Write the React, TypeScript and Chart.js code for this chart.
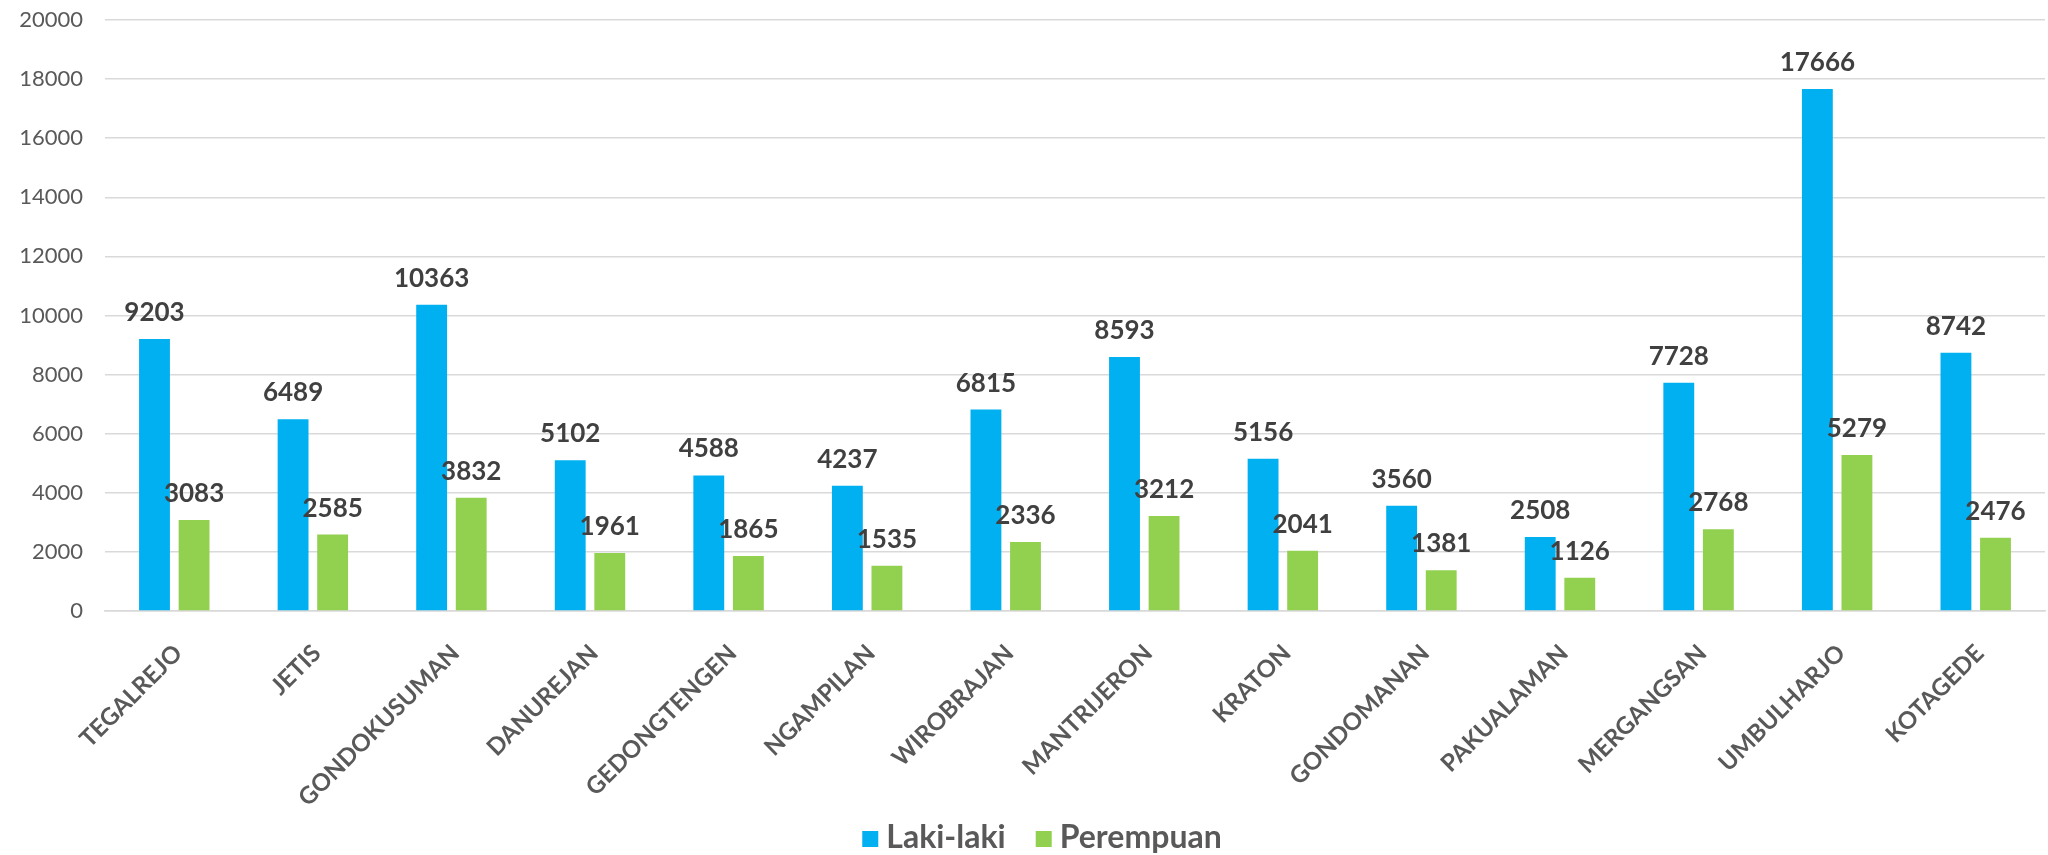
import React, { useEffect, useRef } from "react";
import { Chart, registerables } from "chart.js";

Chart.register(...registerables);

const categories = [
  "TEGALREJO", "JETIS", "GONDOKUSUMAN", "DANUREJAN", "GEDONGTENGEN", "NGAMPILAN", "WIROBRAJAN",
  "MANTRIJERON", "KRATON", "GONDOMANAN", "PAKUALAMAN", "MERGANGSAN", "UMBULHARJO", "KOTAGEDE",
];
const lakiLaki = [9203, 6489, 10363, 5102, 4588, 4237, 6815, 8593, 5156, 3560, 2508, 7728, 17666, 8742];
const perempuan = [3083, 2585, 3832, 1961, 1865, 1535, 2336, 3212, 2041, 1381, 1126, 2768, 5279, 2476];
const seriesNames = ["Laki-laki", "Perempuan"];
const seriesColors = ["#00B0F0", "#92D050"];
const yMin = 0;
const yMax = 20000;
const yStep = 2000;

const FONT = "Lato, 'Noto Sans', sans-serif";

const valueLabels = {
  id: "valueLabels",
  afterDatasetsDraw(chart: any) {
    const ctx = chart.ctx;
    ctx.save();
    ctx.font = `bold 26px ${FONT}`;
    ctx.fillStyle = "#404040";
    ctx.textAlign = "center";
    ctx.textBaseline = "alphabetic";
    chart.data.datasets.forEach((ds: any, i: number) => {
      const meta = chart.getDatasetMeta(i);
      meta.data.forEach((el: any, j: number) => {
        ctx.fillText(String(ds.data[j]), el.x, el.y - 18);
      });
    });
    ctx.restore();
  },
};

// Legend drawn below the axis, Excel style (small square, tight gap to text)
const bottomLegend = {
  id: "bottomLegend",
  afterDraw(chart: any) {
    const ctx = chart.ctx;
    const box = 16;
    const gapText = 8;
    const gapItem = 30;
    ctx.save();
    ctx.font = `bold 32px ${FONT}`;
    const items = chart.data.datasets.map((ds: any) => ({
      label: ds.label,
      color: ds.backgroundColor,
      w: ctx.measureText(ds.label).width,
    }));
    const total = items.reduce((s: number, it: any) => s + box + gapText + it.w, 0) + gapItem * (items.length - 1);
    let x = chart.width / 2 + 18 - total / 2;
    const baseline = chart.height - 7;
    items.forEach((it: any) => {
      ctx.fillStyle = it.color;
      ctx.fillRect(x, baseline - 17, box, box);
      x += box + gapText;
      ctx.fillStyle = "#595959";
      ctx.textAlign = "left";
      ctx.textBaseline = "alphabetic";
      ctx.fillText(it.label, x, baseline);
      x += it.w + gapItem;
    });
    ctx.restore();
  },
};

export default function App() {
  const ref = useRef<HTMLCanvasElement | null>(null);
  useEffect(() => {
    if (!ref.current) return;
    const chart = new Chart(ref.current, {
      type: "bar",
      data: {
        labels: categories,
        datasets: [
          { label: seriesNames[0], data: lakiLaki, backgroundColor: seriesColors[0] },
          { label: seriesNames[1], data: perempuan, backgroundColor: seriesColors[1] },
        ],
      },
      options: {
        animation: false,
        responsive: true,
        maintainAspectRatio: false,
        layout: { padding: { top: 20, right: 3, left: 0, bottom: 35 } },
        datasets: { bar: { categoryPercentage: 0.571, barPercentage: 0.78 } } as any,
        scales: {
          y: {
            min: yMin,
            max: yMax,
            ticks: {
              stepSize: yStep,
              color: "#595959",
              font: { family: FONT, size: 22 },
              padding: 22,
              callback: (v: any) => String(v),
            },
            grid: { color: "#d9d9d9", lineWidth: 1.5, drawTicks: false },
            border: { display: false },
            afterFit: (axis: any) => {
              axis.width = 105;
              axis.paddingTop = 0;
              axis.paddingBottom = 0;
            },
          },
          x: {
            grid: { display: false },
            border: { color: "#d9d9d9", width: 1.5 },
            ticks: {
              color: "#595959",
              font: { family: FONT, size: 24, weight: "bold" },
              maxRotation: 45,
              minRotation: 45,
              padding: 20,
              labelOffset: 4,
            },
            afterFit: (axis: any) => { axis.height = 209; },
          },
        },
        plugins: {
          legend: { display: false },
          tooltip: { enabled: false },
        },
      },
      plugins: [valueLabels, bottomLegend],
    });
    return () => chart.destroy();
  }, []);
  return (
    <div style={{ position: "fixed", left: 0, top: 0, width: 2048, height: 855, background: "#fff" }}>
      <canvas ref={ref} />
    </div>
  );
}
